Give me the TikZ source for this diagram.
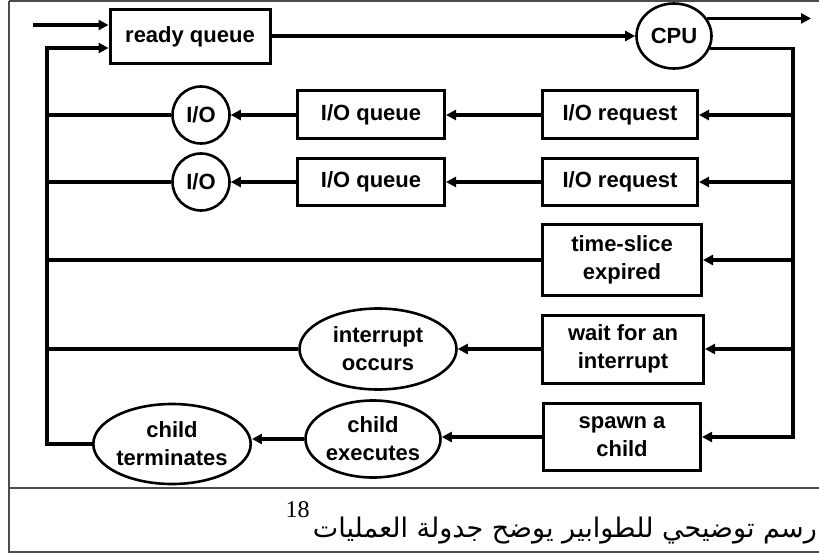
\documentclass[tikz,border=0pt]{standalone}
\usepackage{fontspec}
\setsansfont{Liberation Sans}
\newfontfamily\arabicfont[Script=Arabic]{DejaVu Sans}
\newfontfamily\notefont{Liberation Serif}
\TeXXeTstate=1
\usetikzlibrary{shapes.geometric,arrows.meta}
\begin{document}
\begin{tikzpicture}[x=1pt,y=-1pt,
  lbl/.style={font=\sffamily\bfseries\fontsize{22}{28}\selectfont, align=center, inner sep=0pt},
  boxn/.style={lbl, draw, line width=3pt, rectangle},
  circn/.style={lbl, draw, line width=2.6pt, ellipse},
  conn/.style={line width=3.2pt},
  arr/.style={conn, -{Triangle[length=10pt,width=10pt]}},
  frame/.style={line width=1.4pt, draw=black!70}
]
\useasboundingbox (0,0) rectangle (819,556);
% frame
\draw[frame] (9,1) -- (819,1);
\draw[frame] (9,1) -- (9,552) -- (819,552);
\draw[frame] (9,488) -- (819,488);

% nodes
\node[boxn, minimum width=160pt, minimum height=54pt] (rq) at (190,37) {ready queue};
\node[circn, minimum width=75pt, minimum height=65pt] (cpu) at (674,36) {CPU};

\node[circn, minimum width=57pt, minimum height=57pt] (io1) at (201,115) {I/O};
\node[boxn, minimum width=147pt, minimum height=48pt] (ioq1) at (371,115) {I/O queue};
\node[boxn, minimum width=155pt, minimum height=48pt] (ior1) at (620,115) {I/O request};

\node[circn, minimum width=57pt, minimum height=57pt] (io2) at (201,182) {I/O};
\node[boxn, minimum width=147pt, minimum height=47pt] (ioq2) at (371,182) {I/O queue};
\node[boxn, minimum width=155pt, minimum height=47pt] (ior2) at (620,182) {I/O request};

\node[boxn, minimum width=159pt, minimum height=70pt] (ts) at (622,260) {time-slice\\expired};

\node[boxn, minimum width=161pt, minimum height=68pt] (wi) at (623,349) {wait for an\\interrupt};
\node[circn, minimum width=157pt, minimum height=81pt] (io) at (378,349) {interrupt\\occurs};

\node[boxn, minimum width=157pt, minimum height=67pt] (sp) at (622,437) {spawn a\\child};
\node[circn, minimum width=135pt, minimum height=77pt] (ce) at (373,439) {child\\executes};
\node[circn, minimum width=145pt, minimum height=80pt] (ct) at (172,444) {child\\terminates};

% coordinates
\coordinate (in) at (33,25);
\coordinate (lt) at (47,48);
\coordinate (rb) at (793,437);
\coordinate (out) at (811,19);

% connectors
\draw[arr] (in) -- (in -| rq.west);
\draw[arr] (rq.east |- cpu.west) -- (cpu.west);
\draw[arr] (cpu.28) -- (cpu.28 -| out);
\draw[arr] (cpu.-19) -| (rb) -- (rb -| sp.east);
\draw[arr] (ior1.east -| rb) -- (ior1.east);
\draw[arr] (ior2.east -| rb) -- (ior2.east);
\draw[arr] (ts.east -| rb) -- (ts.east);
\draw[arr] (wi.east -| rb) -- (wi.east);

\draw[arr] (ior1.west) -- (ioq1.east);
\draw[arr] (ioq1.west) -- (io1.east);
\draw[arr] (ior2.west) -- (ioq2.east);
\draw[arr] (ioq2.west) -- (io2.east);
\draw[arr] (wi.west) -- (io.east);
\draw[arr] (sp.west) -- (sp.west -| ce.east);
\draw[arr] (ce.west) -- (ce.west -| ct.east);

\draw[arr] (ct.west) -| (lt) -- (lt -| rq.west);
\draw[conn] (io1.west) -- (io1.west -| lt);
\draw[conn] (io2.west) -- (io2.west -| lt);
\draw[conn] (ts.west) -- (ts.west -| lt);
\draw[conn] (io.west) -- (io.west -| lt);

% caption
\node[anchor=base east, inner sep=0pt, font=\arabicfont\fontsize{27}{30}\selectfont] (cap) at (817,537) {\beginR رسم توضيحي للطوابير يوضح جدولة العمليات\endR};
\node[anchor=base east, inner sep=0pt, font=\notefont\fontsize{24}{24}\selectfont] (fn) at ([xshift=-3pt,yshift=20pt]cap.base west) {18};
\end{tikzpicture}
\end{document}
